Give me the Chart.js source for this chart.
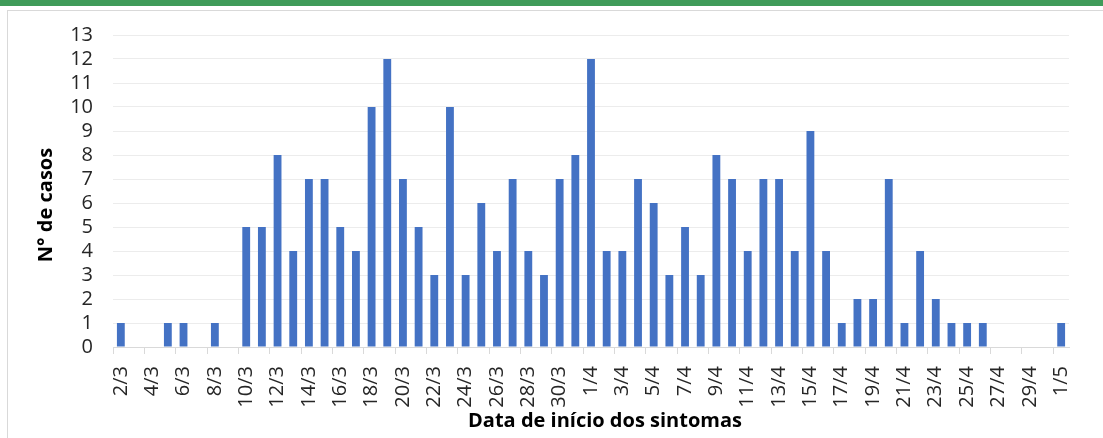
<!DOCTYPE html>
<html>
<head>
<meta charset="utf-8">
<script src="https://cdn.jsdelivr.net/npm/chart.js@4/dist/chart.umd.min.js"></script>
<style>
    html, body { margin: 0; padding: 0; background: #fff; }
    #wrap { position: relative; width: 1103px; height: 438px; overflow: hidden; }
    .green { position: absolute; left: 0; top: 0; width: 1103px; height: 6px; background: #3f9b59; }
    .box { position: absolute; left: 7px; top: 10px; width: 1200px; height: 500px; border: 1px solid #d9d9d9; }
    canvas { position: absolute; left: 0; top: 0; }
</style>
</head>
<body>
<div id="wrap">
    <div class="green"></div>
    <div class="box"></div>
    <canvas id="casosChart" width="1103" height="438"></canvas>
</div>
<script>
// Datas de início dos sintomas (2/3 a 1/5)
const datas = [
    '2/3', '3/3', '4/3', '5/3', '6/3', '7/3', '8/3', '9/3', '10/3', '11/3',
    '12/3', '13/3', '14/3', '15/3', '16/3', '17/3', '18/3', '19/3', '20/3', '21/3',
    '22/3', '23/3', '24/3', '25/3', '26/3', '27/3', '28/3', '29/3', '30/3', '31/3',
    '1/4', '2/4', '3/4', '4/4', '5/4', '6/4', '7/4', '8/4', '9/4', '10/4',
    '11/4', '12/4', '13/4', '14/4', '15/4', '16/4', '17/4', '18/4', '19/4', '20/4',
    '21/4', '22/4', '23/4', '24/4', '25/4', '26/4', '27/4', '28/4', '29/4', '30/4',
    '1/5'
];

// Nº de casos por dia
const casos = [
    1, 0, 0, 1, 1, 0, 1, 0, 5, 5,
    8, 4, 7, 7, 5, 4, 10, 12, 7, 5,
    3, 10, 3, 6, 4, 7, 4, 3, 7, 8,
    12, 4, 4, 7, 6, 3, 5, 3, 8, 7,
    4, 7, 7, 4, 9, 4, 1, 2, 2, 7,
    1, 4, 2, 1, 1, 1, 0, 0, 0, 0,
    1
];

const yMax = 13;
const tituloX = 'Data de início dos sintomas';
const tituloY = 'N° de casos';
const fonte = "'Open Sans', 'Noto Sans', sans-serif";

// Títulos dos eixos desenhados à mão (posição igual à do original)
const titulosEixos = {
    id: 'titulosEixos',
    afterDraw(chart) {
        const c = chart.ctx;
        c.save();
        c.font = 'bold 20px ' + fonte;
        c.fillStyle = '#000';
        c.textAlign = 'center';
        c.textBaseline = 'middle';
        c.fillText(tituloX, 605, 421);
        c.translate(46, 205);
        c.rotate(-Math.PI / 2);
        c.fillText(tituloY, 0, 0);
        c.restore();
    }
};

const ctx = document.getElementById('casosChart');

new Chart(ctx, {
    type: 'bar',
    data: {
        labels: datas,
        datasets: [{
            label: 'Nº de casos',
            data: casos,
            backgroundColor: '#4472C4',
            borderWidth: 0,
            barPercentage: 0.5,
            categoryPercentage: 1
        }]
    },
    options: {
        responsive: false,
        animation: false,
        layout: {
            padding: { left: 0, right: 34, top: 35, bottom: 0 }
        },
        plugins: {
            legend: { display: false },
            tooltip: { enabled: false }
        },
        scales: {
            x: {
                offset: true,
                afterFit: (scale) => { scale.height = 91; },
                border: { color: '#d9d9d9', width: 1 },
                grid: {
                    offset: true,
                    drawOnChartArea: false,
                    drawTicks: true,
                    tickLength: 7,
                    color: (c) => (c.index !== undefined && c.index % 2 === 0) ? '#d9d9d9' : 'rgba(0,0,0,0)'
                },
                ticks: {
                    autoSkip: false,
                    maxRotation: 90,
                    minRotation: 90,
                    padding: 12,
                    color: '#262626',
                    font: { family: fonte, size: 20 },
                    callback: function (value, index) {
                        return index % 2 === 0 ? this.getLabelForValue(value) : '';
                    }
                }
            },
            y: {
                min: 0,
                max: yMax,
                afterFit: (scale) => { scale.width = 113; },
                border: { display: false },
                grid: {
                    color: '#ececec',
                    drawTicks: false
                },
                ticks: {
                    stepSize: 1,
                    autoSkip: false,
                    padding: 20,
                    color: '#262626',
                    font: { family: fonte, size: 20 }
                }
            }
        }
    },
    plugins: [titulosEixos]
});
</script>
</body>
</html>
